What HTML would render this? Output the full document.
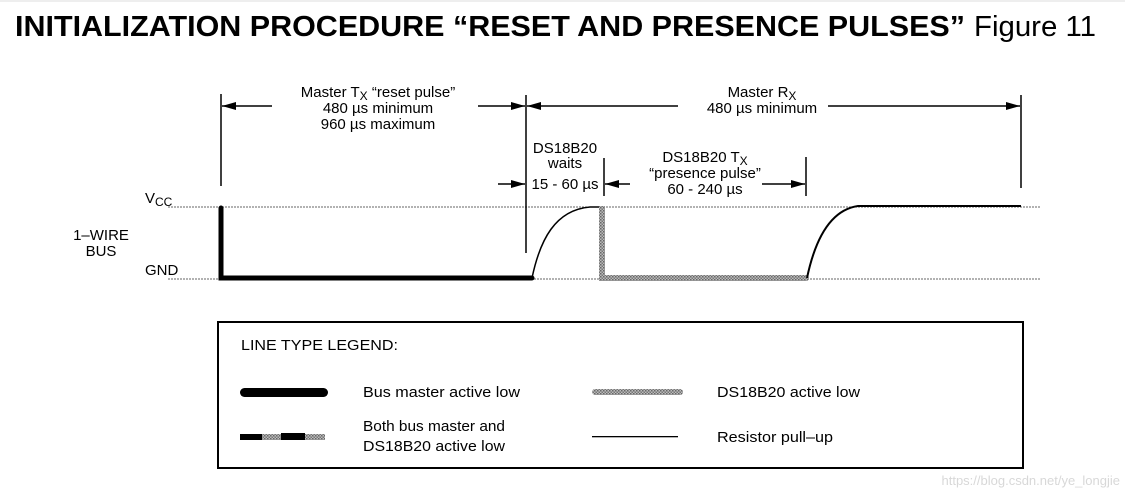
<!DOCTYPE html>
<html><head><meta charset="utf-8"><style>
html,body{margin:0;padding:0;background:#fff;}
svg{display:block;font-family:"Liberation Sans",Arial,sans-serif;}
</style></head><body>
<svg width="1125" height="490" viewBox="0 0 1125 490" xmlns="http://www.w3.org/2000/svg">
<defs>
<pattern id="gp" width="3" height="3" patternUnits="userSpaceOnUse">
<rect width="3" height="3" fill="#bbb"/><rect width="1.5" height="1.5" fill="#666"/><rect x="1.5" y="1.5" width="1.5" height="1.5" fill="#777"/>
</pattern>
<marker id="ar" markerWidth="14" markerHeight="8" refX="14" refY="4" orient="auto" markerUnits="userSpaceOnUse">
<path d="M0,0 L14,4 L0,8 z" fill="#000"/></marker>
</defs>
<line x1="0" y1="1" x2="1125" y2="1" stroke="#ddd" stroke-width="1"/>
<text x="15" y="36" font-size="29" font-weight="bold" textLength="950" lengthAdjust="spacingAndGlyphs">INITIALIZATION PROCEDURE “RESET AND PRESENCE PULSES”</text>
<text x="974" y="36" font-size="29" textLength="122" lengthAdjust="spacingAndGlyphs">Figure 11</text>

<line x1="168" y1="207" x2="1040" y2="207" stroke="#666" stroke-width="1" stroke-dasharray="2,1"/>
<line x1="168" y1="279" x2="1040" y2="279" stroke="#666" stroke-width="1" stroke-dasharray="2,1"/>

<g font-size="15" fill="#000">
<text x="145" y="203">V<tspan font-size="12" dy="3">CC</tspan></text>
<text x="145" y="275">GND</text>
<text x="101" y="240" text-anchor="middle">1–WIRE</text>
<text x="101" y="256" text-anchor="middle">BUS</text>
</g>

<path d="M221,208 L221,278 L532,278" fill="none" stroke="#000" stroke-width="5" stroke-linecap="round"/>
<path d="M532,278 C540,240 555,210 590,207 L601,207" fill="none" stroke="#000" stroke-width="1.5"/>
<rect x="599" y="206" width="6" height="75" fill="url(#gp)"/>
<rect x="599" y="275" width="210" height="6" rx="3" fill="url(#gp)"/>
<path d="M807,278 C815,240 830,210 858,206 L1021,206" fill="none" stroke="#000" stroke-width="2"/>

<g stroke="#000" stroke-width="1.5" fill="none">
<line x1="221" y1="94" x2="221" y2="186"/>
<line x1="526" y1="95" x2="526" y2="253"/>
<line x1="1021" y1="95" x2="1021" y2="188"/>
<line x1="604" y1="158" x2="604" y2="196"/>
<line x1="806" y1="157" x2="806" y2="196"/>
<line x1="272" y1="106" x2="222" y2="106" marker-end="url(#ar)"/>
<line x1="478" y1="106" x2="525" y2="106" marker-end="url(#ar)"/>
<line x1="678" y1="106" x2="527" y2="106" marker-end="url(#ar)"/>
<line x1="828" y1="106" x2="1020" y2="106" marker-end="url(#ar)"/>
<line x1="498" y1="184" x2="525" y2="184" marker-end="url(#ar)"/>
<line x1="630" y1="184" x2="605" y2="184" marker-end="url(#ar)"/>
<line x1="762" y1="184" x2="805" y2="184" marker-end="url(#ar)"/>
</g>

<g font-size="15" fill="#000" text-anchor="middle">
<text x="378" y="97">Master T<tspan font-size="12" dy="3">X</tspan><tspan dy="-3">  “reset pulse”</tspan></text>
<text x="378" y="113">480 µs minimum</text>
<text x="378" y="129">960 µs maximum</text>
<text x="762" y="97">Master R<tspan font-size="12" dy="3">X</tspan></text>
<text x="762" y="113">480 µs minimum</text>
<text x="565" y="153">DS18B20</text>
<text x="565" y="168">waits</text>
<text x="565" y="189">15 - 60 µs</text>
<text x="705" y="162">DS18B20 T<tspan font-size="12" dy="3">X</tspan></text>
<text x="705" y="178">“presence pulse”</text>
<text x="705" y="194">60 - 240 µs</text>
</g>

<rect x="218" y="322" width="805" height="146" fill="none" stroke="#000" stroke-width="2"/>
<g font-size="15" fill="#000">
<text x="241" y="350" textLength="157" lengthAdjust="spacingAndGlyphs">LINE TYPE LEGEND:</text>
<text x="363" y="397" textLength="157" lengthAdjust="spacingAndGlyphs">Bus master active low</text>
<text x="717" y="397" textLength="143" lengthAdjust="spacingAndGlyphs">DS18B20 active low</text>
<text x="363" y="431" textLength="142" lengthAdjust="spacingAndGlyphs">Both bus master and</text>
<text x="363" y="451" textLength="142" lengthAdjust="spacingAndGlyphs">DS18B20 active low</text>
<text x="717" y="442" textLength="116" lengthAdjust="spacingAndGlyphs">Resistor pull–up</text>
</g>
<rect x="240" y="388" width="88" height="9" rx="4.5" fill="#000"/>
<rect x="592" y="389" width="91" height="6" rx="3" fill="url(#gp)"/>
<rect x="592" y="436" width="86" height="1.3" fill="#000"/>
<rect x="240" y="434" width="85" height="6" fill="url(#gp)"/>
<rect x="240" y="434" width="22" height="6" fill="#000"/>
<rect x="281" y="433" width="24" height="7" fill="#000"/>

<text x="1120" y="485" font-size="13" fill="#d8d8d8" text-anchor="end">https://blog.csdn.net/ye_longjie</text>
</svg>
</body></html>
